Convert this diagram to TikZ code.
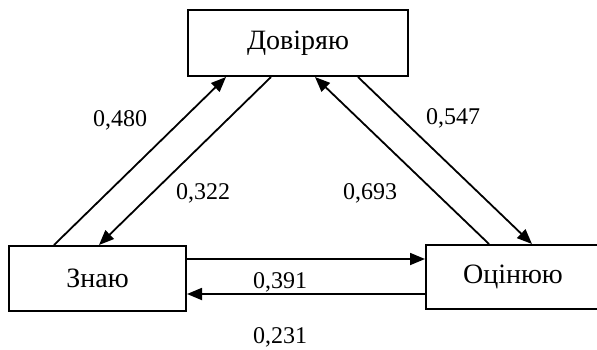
\documentclass[tikz,border=0pt]{standalone}
\usepackage{fontspec}
\setmainfont{Liberation Serif}
\usetikzlibrary{arrows.meta}
\begin{document}
\begin{tikzpicture}[x=1pt,y=-1pt,
  box/.style={draw,line width=2pt,minimum width=#1,inner sep=0pt,font=\fontsize{28}{32}\selectfont},
  conn/.style={line width=1.8pt,-{Triangle[length=15pt,width=12pt]}},
  lbl/.style={font=\fontsize{24}{28}\selectfont,inner sep=0pt}]
\useasboundingbox (0,0) rectangle (597,349);
\node[box=220pt,minimum height=66pt] (trust) at (298,43) {Довіряю};
\node[box=177pt,minimum height=65pt] (know) at (97.5,278.5) {Знаю};
\node[box=174pt,minimum height=64pt] (eval) at (513,277) {Оцінюю};
\draw[conn] ([xshift=46pt]know.north west) -- ([xshift=39pt]trust.south west);
\draw[conn] ([xshift=84pt]trust.south west) -- ([xshift=91pt]know.north west);
\draw[conn] ([xshift=64pt]eval.north west) -- ([xshift=128pt]trust.south west);
\draw[conn] ([xshift=171pt]trust.south west) -- ([xshift=107pt]eval.north west);
\draw[conn] ([yshift=-14pt]know.north east) -- ([yshift=-15pt]eval.north west);
\draw[conn] ([yshift=-50pt]eval.north west) -- ([yshift=-49pt]know.north east);
\node[lbl] (l480) at (120,120) {0,480};
\node[lbl] (l322) at (203,193) {0,322};
\node[lbl] (l547) at (453,118) {0,547};
\node[lbl] (l693) at (370,193) {0,693};
\node[lbl] (l391) at (280,282) {0,391};
\node[lbl] (l231) at (280,337) {0,231};
\end{tikzpicture}
\end{document}
